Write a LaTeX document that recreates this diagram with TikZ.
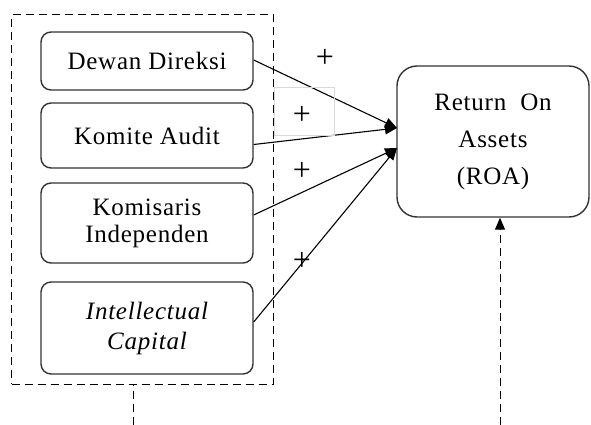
\documentclass[tikz,border=0pt]{standalone}
\usepackage{fontspec}
\setmainfont{Liberation Serif}[LetterSpace=3]
\usepackage{tikz}
\usetikzlibrary{arrows.meta}

\begin{document}
\begin{tikzpicture}[x=1pt,y=-1pt,
  box/.style={draw=black!80,line width=1.4pt,rounded corners=10pt,minimum width=212pt,align=center,font=\fontsize{25}{27}\selectfont},
  plus/.style={font=\fontsize{32}{32}\selectfont,inner sep=0pt},
  tip/.style={-{Triangle[length=12pt,width=10pt]},line width=1.1pt},
  dashline/.style={dash pattern=on 8pt off 5pt,line width=1pt}]

\useasboundingbox (0,0) rectangle (591,425);

%Group and boxes
\node[draw,dashline,minimum width=262pt,minimum height=369pt] (G) at (142.5,199.5) {};
\node[box,minimum height=58pt] (D) at (147,61) {Dewan Direksi};
\node[box,minimum height=65pt] (K) at (147,135.5) {Komite Audit};
\node[box,minimum height=80pt,font=\fontsize{25}{27}\selectfont] (I) at (147,223) {Komisaris\\Independen};
\node[box,minimum height=92pt,font=\fontsize{25}{30}\selectfont\itshape] (C) at (147,328) {Intellectual\\Capital};
\node[box,rounded corners=20pt,minimum width=192pt,minimum height=151pt,font=\fontsize{25}{37}\selectfont] (R) at (493,141.5) {Return~ On\\Assets\\(ROA)};

%Marking coordinates
\coordinate (T1) at (397,128);
\coordinate (T2) at (397,148);
\coordinate (L) at (133,425);
\coordinate (B) at (500,425);

%Drawing arrows
\draw[tip] ([yshift=1pt]D.east) -- (T1);
\draw[tip] ([yshift=-9pt]K.east) -- (T1);
\draw[tip] ([yshift=8pt]I.east) -- (T2);
\draw[tip] ([yshift=6pt]C.east) -- (T2);
\draw[dashline] (L) -- (L |- G.south);
\draw[dashline,-{Triangle[length=12pt,width=10pt]}] (B) -- (B |- R.south);

%Signs
\node[plus] (P1) at (325,58) {+};
\node[draw=black!15,minimum width=60pt,minimum height=48pt] (Q) at (304,111) {};
\node[plus] (P2) at (302,115) {+};
\node[plus] (P3) at (302,171) {+};
\node[plus] (P4) at (302,261) {+};
\end{tikzpicture}
\end{document}
